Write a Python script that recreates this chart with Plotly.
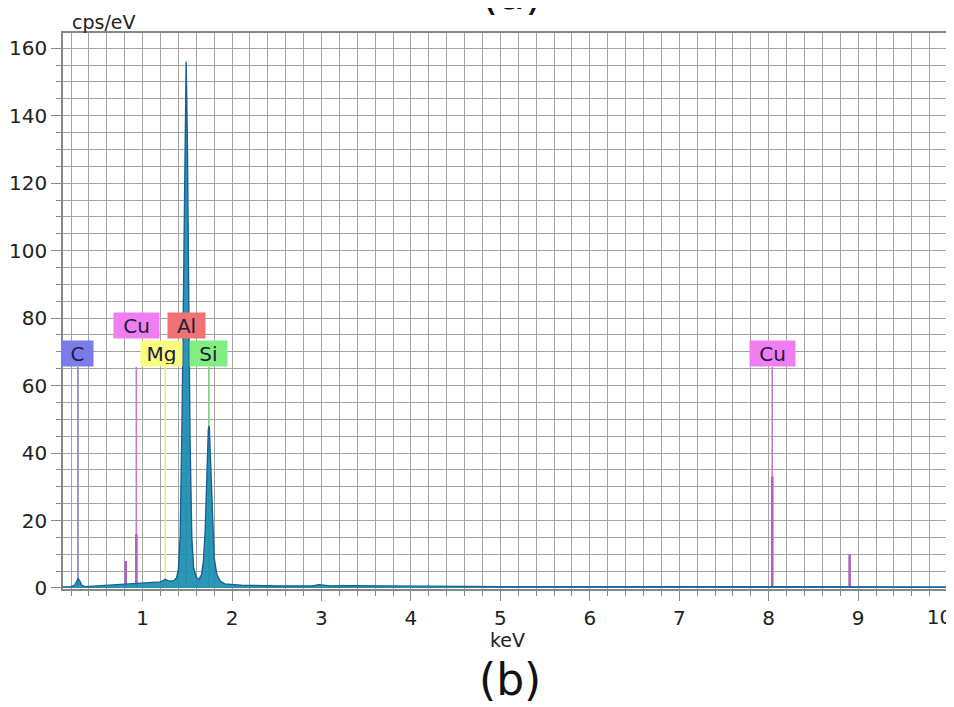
import plotly.graph_objects as go

# ---- data ----
spectrum_kev = [0.11, 0.20, 0.24, 0.26, 0.28, 0.30, 0.32, 0.36,
                0.50, 0.70, 0.90, 1.10, 1.20, 1.23, 1.255, 1.28, 1.31, 1.35,
                1.38, 1.40, 1.42, 1.44, 1.46, 1.475, 1.487, 1.50, 1.515, 1.53,
                1.55, 1.57, 1.60, 1.63, 1.66, 1.68, 1.70, 1.72, 1.735, 1.745,
                1.76, 1.78, 1.80, 1.83, 1.87, 1.92, 2.10, 2.50, 2.90, 2.97,
                3.03, 3.10, 3.30, 4.0, 5.0, 6.0, 7.0, 8.0, 9.0, 10.0]
spectrum_cps = [0.3, 0.4, 0.8, 2.0, 2.8, 2.0, 0.8, 0.4,
                0.6, 0.9, 1.2, 1.6, 1.8, 2.2, 2.6, 2.2, 2.0, 2.2,
                3.0, 5.5, 15, 48, 100, 142, 156, 134, 88, 45,
                15, 6, 3.2, 2.5, 4, 8, 17, 35, 47, 48,
                38, 20, 9, 4, 2, 1.2, 0.8, 0.6, 0.6, 1.0,
                0.9, 0.6, 0.7, 0.5, 0.4, 0.4, 0.35, 0.3, 0.3, 0.3]

# element marker lines (keV, top of line in cps/eV)
marker_elements = ["C", "Cu", "Mg", "Al", "Si", "Cu"]
marker_kev = [0.277, 0.930, 1.254, 1.487, 1.740, 8.040]
marker_top = [65.5, 65.5, 65.5, 65.5, 65.5, 65.5]
label_y = [65.5, 73.8, 65.5, 73.8, 65.5, 65.5]

# Cu family intensity lines
cu_kev = [0.811, 0.930, 8.040, 8.905]
cu_height = [8, 16, 33, 10]

x_ticks = [1, 2, 3, 4, 5, 6, 7, 8, 9, 10]
x_tick_labels = ["1", "2", "3", "4", "5", "6", "7", "8", "9", "10"]
y_ticks = [0, 20, 40, 60, 80, 100, 120, 140, 160]

# ---- styles ----
box_color = {"C": "#7b7bec", "Cu": "#f07ef0", "Mg": "#fbfb7e", "Al": "#f07272", "Si": "#82ee82"}
line_color = {"C": "#8e7cc4", "Cu": "#c878d0", "Mg": "#e2ea94", "Al": "#f08a8a", "Si": "#84d084"}
box_width = {"C": 27, "Cu": 41, "Mg": 37, "Al": 33, "Si": 33}
box_shift = {"C": 0, "Cu": 0, "Mg": -4, "Al": 0, "Si": 0}
FONT = "DejaVu Sans"
X_RANGE = [0.11, 10.005]

fig = go.Figure()

# marker lines
for el, xk, top in zip(marker_elements, marker_kev, marker_top):
    fig.add_trace(go.Scatter(x=[xk, xk], y=[0, top], mode="lines",
                             line=dict(color=line_color[el], width=1.6),
                             hoverinfo="skip", showlegend=False))
for xk, h in zip(cu_kev, cu_height):
    fig.add_trace(go.Scatter(x=[xk, xk], y=[0, h], mode="lines",
                             line=dict(color="#b060c0", width=2.6),
                             hoverinfo="skip", showlegend=False))

# spectrum
fig.add_trace(go.Scatter(x=spectrum_kev, y=spectrum_cps, mode="lines",
                         fill="tozeroy", fillcolor="rgba(24,142,176,0.92)",
                         line=dict(color="#1b5f95", width=1.4),
                         hoverinfo="skip", showlegend=False))

# invisible helper trace so the overlay axis (carrying only the last, edge
# label, nudged left as in the reference) is drawn
fig.add_trace(go.Scatter(x=[x_ticks[-1]], y=[y_ticks[0]], xaxis="x2", mode="markers",
                         marker=dict(opacity=0), hoverinfo="skip", showlegend=False))

annotations = []
for el, xk, yl in zip(marker_elements, marker_kev, label_y):
    annotations.append(dict(x=xk, y=yl, xref="x", yref="y", text=el,
                            showarrow=False, xanchor="center", yanchor="bottom",
                            xshift=box_shift[el],
                            font=dict(family=FONT, size=20, color="#1c1c3c"),
                            bgcolor=box_color[el], borderpad=2,
                            width=box_width[el], height=21))

annotations += [
    dict(x=0.008, y=1.0, xref="paper", yref="paper", text="cps/eV", showarrow=False,
         xanchor="left", yanchor="bottom", yshift=-2,
         font=dict(family=FONT, size=19, color="#222")),
    dict(x=0.502, y=-0.068, xref="paper", yref="paper", text="keV", showarrow=False,
         xanchor="center", yanchor="top", font=dict(family=FONT, size=19, color="#222")),
    dict(x=0.505, y=-0.1135, xref="paper", yref="paper", text="(b)", showarrow=False,
         xanchor="center", yanchor="top", font=dict(family=FONT, size=44, color="#111")),
    dict(x=0.507, y=1.021, xref="paper", yref="paper", text="(a)", showarrow=False,
         xanchor="center", yanchor="bottom", font=dict(family=FONT, size=44, color="#111")),
]

grid = "#a4a4a4"
tickfont = dict(family=FONT, size=20, color="#222")
# the page body adds an 8px margin, so the figure is sized 8px smaller
fig.update_layout(
    width=946, height=699,
    margin=dict(l=55, r=6, t=25, b=118),
    paper_bgcolor="white", plot_bgcolor="white",
    annotations=annotations,
    xaxis=dict(range=X_RANGE, tickvals=x_ticks[:-1], ticktext=x_tick_labels[:-1],
               automargin=False, ticklabeloverflow="allow",
               ticks="outside", ticklen=10, tickcolor="#888", tickwidth=1.3,
               showgrid=True, gridcolor=grid, gridwidth=1.4,
               minor=dict(dtick=0.2, tick0=0, showgrid=True, gridcolor=grid, gridwidth=1.4,
                          ticks="outside", ticklen=5, tickcolor="#888"),
               showline=True, linecolor="#888", linewidth=1.6, mirror=True,
               zeroline=False, tickfont=tickfont),
    xaxis2=dict(range=X_RANGE, overlaying="x", side="bottom",
                tickvals=x_ticks[-1:], ticktext=x_tick_labels[-1:],
                automargin=False, ticklabeloverflow="allow", ticklabelshift=-8,
                ticks="outside", ticklen=10, tickcolor="#888", tickwidth=1.3,
                showgrid=False, showline=False, zeroline=False, tickfont=tickfont),
    yaxis=dict(range=[-0.3, 164.5], tickvals=y_ticks, ticktext=[str(v) for v in y_ticks],
               automargin=False, ticklabeloverflow="allow",
               ticks="outside", ticklen=10, tickcolor="#888", tickwidth=1.3,
               showgrid=True, gridcolor=grid, gridwidth=1.4,
               minor=dict(dtick=5, tick0=0, showgrid=True, gridcolor=grid, gridwidth=1.4,
                          ticks="outside", ticklen=5, tickcolor="#888"),
               showline=True, linecolor="#888", linewidth=1.6, mirror=True,
               zeroline=False, tickfont=tickfont),
)

fig.write_html("out.html")
